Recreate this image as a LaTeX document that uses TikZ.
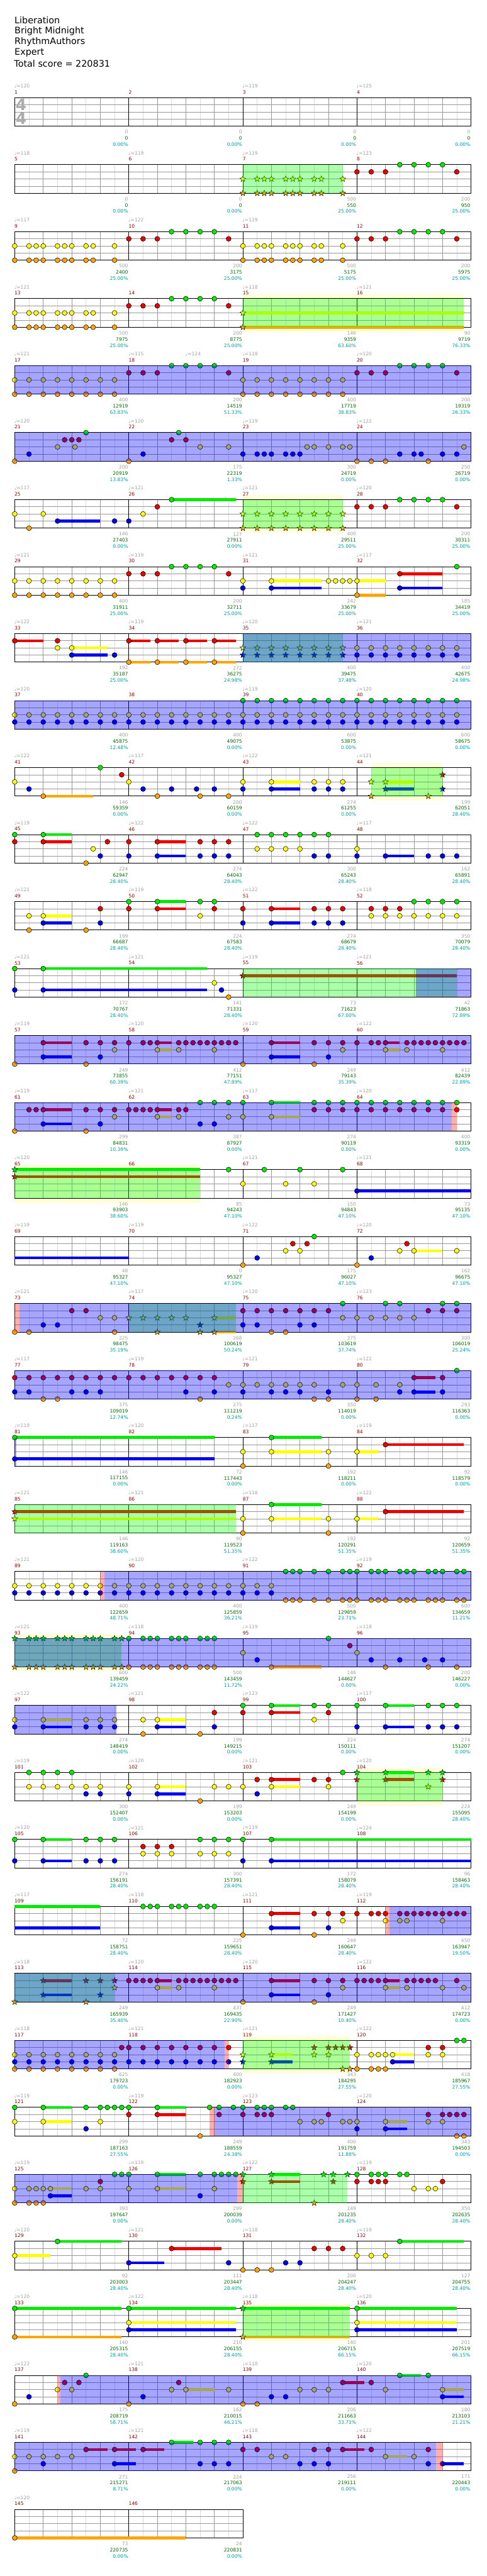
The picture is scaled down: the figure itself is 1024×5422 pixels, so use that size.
\documentclass[tikz,border=0pt]{standalone}
\usepackage{fontspec}
\setmainfont{DejaVu Sans}
\usetikzlibrary{shapes.geometric}
\definecolor{lane0}{RGB}{0,235,0}
\definecolor{lane1}{RGB}{235,0,0}
\definecolor{lane2}{RGB}{255,255,0}
\definecolor{lane3}{RGB}{0,0,240}
\definecolor{lane4}{RGB}{255,165,0}
\definecolor{mred}{RGB}{139,0,0}
\definecolor{tgray}{RGB}{160,160,160}
\definecolor{ngreen}{RGB}{0,105,0}
\definecolor{nteal}{RGB}{0,158,158}
\definecolor{glight}{RGB}{218,218,218}
\definecolor{ggray}{RGB}{152,152,152}
\definecolor{pgreen}{RGB}{0,255,0}
\definecolor{pblue}{RGB}{0,0,255}
\definecolor{ppale}{RGB}{255,255,218}
\definecolor{tsig}{RGB}{172,172,172}
\tikzset{
  lbl/.style={inner sep=0pt, font=\fontsize{10}{12}\selectfont},
  tempo/.style={lbl, text=tgray, anchor=west},
  mnum/.style={lbl, text=mred, anchor=west},
  gnum/.style={lbl, text=tgray, anchor=east},
  snum/.style={lbl, text=ngreen, anchor=east},
  pnum/.style={lbl, text=nteal, anchor=east},
  header/.style={inner sep=0pt, anchor=west, font=\fontsize{19}{23}\selectfont},
  tsnum/.style={inner sep=0pt, text=tsig, font=\fontsize{33}{33}\selectfont\bfseries},
  notestyle/.style={draw=black, line width=0.7pt},
  starnote/.style={star, star points=5, star point ratio=2.3, minimum size=13pt, inner sep=0pt, draw=black, line width=0.6pt},
  gridlight/.style={draw=glight, line width=1pt},
  gridgray/.style={draw=ggray, line width=1pt},
  gridblack/.style={draw=black, line width=1pt},
  border/.style={draw=black, line width=1.3pt},
  ovgreen/.style={fill=pgreen, fill opacity=0.33},
  ovblue/.style={fill=pblue, fill opacity=0.35},
  ovpink/.style={fill=red, fill opacity=0.32},
}
\newcommand\mxy[2]{%
  \pgfmathtruncatemacro\mrow{(#1-1)/4}%
  \pgfmathtruncatemacro\mcol{#1-1-4*\mrow}%
  \pgfmathsetmacro\bx{31+240*\mcol+15*(#2)}%
  \pgfmathsetmacro\by{205.7+141*\mrow}}
\newcommand\gnote[3]{\foreach \pp in {#2}{\foreach \ll in {#3}{\mxy{#1}{\pp}\filldraw[notestyle, fill=lane\ll] (\bx,{\by+15*\ll}) circle[radius=5.2pt];}}}
\newcommand\gstar[3]{\foreach \pp in {#2}{\foreach \ll in {#3}{\mxy{#1}{\pp}\node[starnote, fill=lane\ll] at (\bx,{\by+15*\ll}) {};}}}
\newcommand\gsus[4]{\foreach \ll in {#3}{\mxy{#1}{#2}\draw[draw=lane\ll, line width=6pt] (\bx,{\by+15*\ll}) -- ++({15*(#4)},0);}}
\newcommand\region[4]{\mxy{#2}{#3}\let\rxa\bx\mxy{#2}{#4}\fill[#1] (\rxa,\by) rectangle (\bx,{\by+60});}
\newcommand\paleband[3]{\mxy{#1}{#2}\let\rxa\bx\mxy{#1}{#3}\fill[ppale] (\rxa,{\by-10}) rectangle (\bx,{\by+70});}
\newcommand\meas[5]{\mxy{#1}{0}%
  \if\relax\detokenize{#2}\relax\else\node[tempo] at ({\bx-1},{\by-24.7}) {♩=#2};\fi
  \node[mnum] at ({\bx-0.5},{\by-11.7}) {#1};
  \node[gnum] at ({\bx+238.5},{\by+72.4}) {#3};
  \node[snum] at ({\bx+238.5},{\by+85.4}) {#4};
  \node[pnum] at ({\bx+238.5},{\by+98.4}) {#5\%};}
\newcommand\drawrow[2]{%
  \pgfmathtruncatemacro\ne{4*#2}%
  \pgfmathsetmacro\xe{31+240*#2}%
  \foreach \k in {1,...,\ne}{\draw[gridlight] ({31+60*\k-30},#1) -- ++(0,60);}
  \foreach \k in {1,...,\ne}{\draw[gridgray] ({31+60*\k},#1) -- ++(0,60);}
  \foreach \l in {15,30,45}{\draw[gridgray] (31,{#1+\l}) -- (\xe,{#1+\l});}
  \foreach \k in {1,...,#2}{\draw[gridblack] ({31+240*\k},#1) -- ++(0,60);}
  \draw[border] (31,#1) rectangle (\xe,{#1+60});}
\begin{document}
\begin{tikzpicture}[x=1pt,y=-1pt]
\useasboundingbox (0,0) rectangle (1024,5422);
\fill[white] (0,0) rectangle (1024,5422);
% header
\node[header] (t1) at (30.5,42) {Liberation};
\node[header] (t2) at (30.5,65) {Bright Midnight};
\node[header] (t3) at (30.5,88) {RhythmAuthors};
\node[header] (t4) at (30.5,111) {Expert};
\node[header] (t5) at (29.5,134) {Total score = 220831};
% pale bands
\paleband{15}{0}{31}\paleband{27}{0}{14}\paleband{44}{2}{12}\paleband{65}{0}{26}
\paleband{93}{0}{15}\paleband{104}{0}{12}\paleband{119}{0}{15}\paleband{135}{0}{15}
% grid
\foreach \r in {0,...,35}{\pgfmathsetmacro\yr{205.7+141*\r}\drawrow{\yr}{4}}
\drawrow{5281.7}{2}
\node[tsnum] (ts1) at (44.5,220) {4};
\node[tsnum] (ts2) at (44.5,250) {4};
% ---------- notes ----------
\gstar{7}{0,2,3,4,6,7,8,10,11,14}{2,4}
\foreach \m in {8,10,12,14,18,20,28,30}{\gnote{\m}{0,2,4,14}{1}\gnote{\m}{6,8,10,12}{0}}
\foreach \m in {9,11,13}{\gnote{\m}{0,2,3,4,6,7,8,10,11,14}{2,4}}
\gsus{15}{0}{2,4}{31}\gstar{15}{0}{2,4}
\foreach \m in {17,19,29}{\gnote{\m}{0,2,...,14}{2,4}}
\gnote{21}{0}{4}\gnote{21}{2}{3}\gnote{21}{6,8.45}{2}\gnote{21}{7,8,9}{1}\gnote{21}{10}{0}
\gnote{22}{0}{4}\gnote{22}{2}{3}\gnote{22}{6,8}{1}\gnote{22}{7}{0}\gnote{22}{10,14}{2}
\gnote{23}{0,2,3,4,6,7,8}{3}\gnote{23}{9,10,12,14,15}{2}
\gnote{24}{0,2,4,10}{4}\gnote{24}{6,8,9,12,14}{3}\gnote{24}{15}{2}
\gnote{25}{0,4}{2}\gnote{25}{2}{4}\gsus{25}{6}{3}{6}\gnote{25}{6,14}{3}
\gnote{26}{0}{3}\gnote{26}{2}{2}\gnote{26}{4}{1}\gsus{26}{6}{0}{9}\gnote{26}{6}{0}
\gstar{27}{0,2,...,14}{2,4}
\gnote{31}{0}{2,3}\gsus{31}{4}{2,3}{7}\gnote{31}{4}{2,3}\gnote{31}{12,13,14,15}{2}
\gsus{32}{0}{2,4}{4}\gnote{32}{0}{2,4}\gsus{32}{6}{1,3}{6}\gnote{32}{6}{1,3}\gnote{32}{14}{0}
\gsus{33}{0}{1}{4}\gnote{33}{0}{1}\gnote{33}{6}{1,2}\gsus{33}{8}{2,3}{5}\gnote{33}{8}{2,3}\gnote{33}{14}{3}
\foreach \q in {0,4,8,12}{\gsus{34}{\q}{1,4}{3}}\gnote{34}{0,4,8,12}{1,4}
\gstar{35}{0,2,...,14}{2,3}
\foreach \m in {36,37,38}{\gnote{\m}{0,2,...,14}{2,3}}
\foreach \m in {39,40}{\gnote{\m}{0,2,...,14}{0,2,3}}
\foreach \m in {41,95}{\gnote{\m}{0}{2}\gnote{\m}{2}{3}\gsus{\m}{4}{4}{7}\gnote{\m}{4}{4}\gnote{\m}{12}{0}\gnote{\m}{15}{1}}
\foreach \m in {42,96}{\gnote{\m}{0}{2}\gnote{\m}{2,6,9.5,12}{3}\gnote{\m}{4,10,14}{4}}
\foreach \m in {43,97}{\gnote{\m}{0}{2,3}\gsus{\m}{4}{2,3}{4}\gnote{\m}{4,10,12,14}{2,3}}
\gstar{44}{2}{2,4}\gsus{44}{4}{2,3}{4}\gstar{44}{4}{2,3}\gstar{44}{10}{4}\gstar{44}{12}{1,3}
\gnote{45}{0}{0,1}\gsus{45}{4}{0,1}{4}\gnote{45}{4}{0,1}\gnote{45}{10}{4}\gnote{45}{11}{2}\gnote{45}{12}{3}\gnote{45}{13}{1}
\foreach \m in {46,51}{\gnote{\m}{0}{1,3}\gsus{\m}{4}{1,3}{4}\gnote{\m}{4,10,12,14}{1,3}}
\gnote{47}{2,4,6,8}{0,2}\gnote{47}{10,12}{0,3}
\gnote{48}{0}{2,3}\gsus{48}{4}{3}{4}\gnote{48}{4,10,12,14}{3}
\foreach \m in {49,98}{\gnote{\m}{2}{2,4}\gsus{\m}{4}{2,3}{4}\gnote{\m}{4}{2,3}\gnote{\m}{10}{4}\gnote{\m}{12}{1,3}}
\foreach \m in {50,99}{\gnote{\m}{0}{0,1}\gsus{\m}{4}{0,1}{4}\gnote{\m}{4}{0,1}\gnote{\m}{10}{0,2}\gnote{\m}{12}{0,1}}
\gnote{52}{2,4,6}{1,2}\gnote{52}{8,10,12,14}{0,2}
\gnote{53}{0}{0,3}\gsus{53}{4}{0,3}{23}\gnote{53}{4}{0,3}
\gnote{54}{12}{2}\gnote{54}{13}{3}\gnote{54}{14}{4}
\gsus{55}{0}{1}{30}\gstar{55}{0}{1}
\foreach \m in {57,59,111,115}{\gnote{\m}{0,10}{4}\gsus{\m}{4}{1,3}{4}\gnote{\m}{4}{1,3}\gnote{\m}{10,12,14}{1}\gnote{\m}{12}{3}\gnote{\m}{14}{2}}
\foreach \m in {58,60}{\gnote{\m}{0,2,3}{1}\gsus{\m}{4}{1,2}{2}\gnote{\m}{4,7}{1,2}\gnote{\m}{8,9,10,11,12,13,14,15}{1}\gnote{\m}{12}{2}}
\gnote{61}{0,10}{4}\gnote{61}{2,3}{1}\gsus{61}{4}{1,3}{4}\gnote{61}{4}{1,3}\gnote{61}{10,12,14}{1}\gnote{61}{12}{3}\gnote{61}{14}{2}
\gnote{62}{0,1,2,3}{1}\gsus{62}{4}{1,2}{2}\gnote{62}{4,7}{1,2}\gnote{62}{8}{1}\gnote{62}{10,12}{0,3}\gnote{62}{14}{0,2}
\gnote{63}{0}{0,2}\gsus{63}{4}{0,2}{4}\gnote{63}{4}{0,2}\gnote{63}{10,12,14}{0,1}
\gnote{64}{0,2,...,14}{0,1}
\gsus{65}{0}{0,1}{26}\gstar{65}{0}{0,1}
\gnote{66}{14}{0}
\gnote{67}{0,6,10}{2}\gnote{67}{3,8,14}{0}
\gsus{68}{0}{3}{16}\gnote{68}{0}{3}\gsus{69}{0}{3}{16}
\foreach \m in {71,137}{\gnote{\m}{0}{4}\gnote{\m}{2}{3}\gnote{\m}{6,8}{2}\gnote{\m}{7,9}{1}\gnote{\m}{10}{0}}
\foreach \m in {72,138}{\gnote{\m}{0}{4}\gnote{\m}{2}{3}\gnote{\m}{6}{2}\gnote{\m}{7}{1}\gsus{\m}{8}{2}{4}\gnote{\m}{8,14}{2}}
\gnote{73}{0,2,14}{4}\gnote{73}{4,6}{3}\gnote{73}{8,10}{1}\gnote{73}{12,14}{2}
\gsus{74}{12}{2,4}{3}\gstar{74}{0,2,4,6,8,12}{2}\gstar{74}{10}{3}\gstar{74}{4,10,12}{4}
\gnote{75}{0,2,...,12}{1}\gnote{75}{0,2,8,10}{3}\gnote{75}{4,6}{4}\gnote{75}{14}{0,2}
\gnote{76}{0,2,4,6,8}{2}\gnote{76}{4,6,12,14}{0}\gnote{76}{10,12,14}{1}
\gnote{77}{0,2,...,14}{1}\gnote{77}{0,2,8,10,12}{3}\gnote{77}{4,6}{4}
\gnote{78}{0,2,...,12}{1}\gnote{78}{8,12}{3}\gnote{78}{10}{4}\gnote{78}{14}{2}
\gnote{79}{0,2,4,6,8,10,14}{2}\gnote{79}{0,4,6,8,12}{3}\gnote{79}{10,12}{4}
\gnote{80}{0,2.67,6}{2}\gnote{80}{0,2.67}{4}\gnote{80}{6}{3}\gsus{80}{8}{1,3}{3}\gnote{80}{8,12}{1,3}\gnote{80}{14}{0}
\gsus{81}{0}{0,3}{28}\gnote{81}{0}{0,3}
\foreach \m in {83,87}{\gnote{\m}{0,12}{2,4}\gsus{\m}{4}{0,2}{7}\gnote{\m}{4}{0,2}}
\foreach \m in {84,88}{\gsus{\m}{0}{2}{3}\gnote{\m}{0}{2}\gsus{\m}{4}{1}{11}\gnote{\m}{4}{1}}
\gsus{85}{0}{1,2}{31}\gstar{85}{0}{1,2}
\foreach \m in {89,90}{\gnote{\m}{0,2,...,14}{2,3}}
\gnote{91}{0,2,4}{2,3}\gnote{91}{6,7,8,10,12,14,15}{0,4}
\gnote{92}{0,2,3,4,6,7,8,10,11,12,14,15}{0,4}
\gstar{93}{0,2,3,4,6,7,8,10,11,12,14,15}{0,4}
\gnote{94}{0,2,3,4,6,7,8,10,11,12}{0,4}
\foreach \m in {100,105}{\gnote{\m}{0}{0,3}\gsus{\m}{4}{0,3}{4}\gnote{\m}{4,10,12,14}{0,3}}
\gnote{101}{2,4,6,8}{0,2}\gnote{101}{10,12}{2,3}
\gnote{102}{0}{2,3}\gsus{102}{4}{2,3}{4}\gnote{102}{4}{2,3}\gnote{102}{10}{4}\gnote{102}{12,14}{2}
\gnote{103}{0}{2}\gnote{103}{2}{1,3}\gsus{103}{4}{1,2}{4}\gnote{103}{4}{1,2}\gnote{103}{10}{1}\gnote{103}{12}{1,2}\gnote{103}{14}{0}
\gstar{104}{0}{0,1}\gsus{104}{4}{0,1}{4}\gstar{104}{4}{0,1}\gstar{104}{10}{0,2}\gstar{104}{12}{0,1}
\gnote{106}{2,4,6}{1,2}\gnote{106}{10,12,14}{0,2}
\gnote{107}{0}{0,3}\gsus{107}{4}{0,3}{28}\gnote{107}{4}{0,3}
\gsus{109}{0}{0,3}{12}
\gnote{110}{2,3,4,6,7,8,10,11,12}{0}
\gnote{112}{0,2,3,4,6,7,8,9,10,11,12,13,14,15}{1}\gnote{112}{4,6,7,12}{2}
\gstar{113}{0,10}{4}\gsus{113}{4}{1,3}{4}\gstar{113}{4}{1,3}\gstar{113}{10,12,14}{1}\gstar{113}{12}{3}\gstar{113}{14}{2}
\gnote{114}{0,1,2,3}{1}\gsus{114}{4}{1,2}{2}\gnote{114}{4,7}{1,2}\gnote{114}{8,9,10,11,12,13,14,15}{1}\gnote{114}{12}{2}
\gnote{116}{0,1,2,3}{1}\gsus{116}{4}{1,2}{2}\gnote{116}{4,7}{1,2}\gnote{116}{8,9,10,11,14}{1}\gnote{116}{12,15}{2}
\gnote{117}{0,2,...,14}{2,3,4}\gnote{117}{15}{1}
\gnote{118}{0,2,...,14}{1,3}
\gstar{119}{0}{2,3}\gsus{119}{4}{2,3}{3}\gstar{119}{4}{2,3}\gstar{119}{10,12}{1,2}\gstar{119}{13}{1}\gstar{119}{14,15}{1,4}
\gnote{120}{0,2,3,4}{2,4}\gsus{120}{5}{2,3}{3}\gnote{120}{5}{2,3}\gnote{120}{10,12}{1,2}\gnote{120}{14,15}{0}
\foreach \m in {121,126}{\gnote{\m}{0}{0,2}\gsus{\m}{4}{0,2}{4}\gnote{\m}{4}{0,2}\gnote{\m}{10}{0,3}\gnote{\m}{12}{0,2}\gnote{\m}{13,14,15}{0}}
\gnote{122}{0}{0,1}\gsus{122}{4}{0,1}{4}\gnote{122}{4}{0,1}\gnote{122}{10}{4}\gnote{122}{11.33,14.67}{0}\gnote{122}{12.67}{0,1}
\gnote{123}{0,2,3,4}{0,1}\gnote{123}{6,7}{0}\gnote{123}{8,10,11,14,15}{2}\gnote{123}{12}{1}
\gnote{124}{0}{2,3}\gsus{124}{4}{2,3}{3}\gnote{124}{4}{2,3}\gnote{124}{10,12}{1,2}\gnote{124}{13,14,15}{1}\gnote{124}{14,15}{4}
\gnote{125}{0,2,3,4}{2,4}\gsus{125}{5}{2,3}{3}\gnote{125}{5}{2,3}\gnote{125}{10,12}{2}\gnote{125}{12}{1}\gnote{125}{14,15}{0}
\gstar{127}{0}{0,1}\gsus{127}{4}{0,1}{4}\gstar{127}{4}{0,1}\gstar{127}{10}{4}\gstar{127}{11.33,14.67}{0}\gstar{127}{12.67}{0,1}
\gnote{128}{0,2,3,4}{0,1}\gnote{128}{6,7}{0}\gnote{128}{8,10,11}{2}\gnote{128}{12}{1}
\gsus{129}{0}{2}{5}\gnote{129}{0}{2}\gsus{129}{6}{0}{9}\gnote{129}{6}{0}
\gsus{130}{0}{3}{5}\gnote{130}{0}{3}\gsus{130}{6}{1}{7}\gnote{130}{6}{1}\gnote{130}{14}{3}
\gnote{131}{0,2,4}{4}\gnote{131}{6,8}{3}\gnote{131}{10,12,14}{1}
\gnote{132}{0,2,4}{2}\gsus{132}{6}{0}{9}\gnote{132}{6}{0}
\gsus{133}{0}{0,4}{15}\gnote{133}{0}{0,4}
\gsus{134}{0}{0,2,3}{15}\gnote{134}{0}{0,2,3}
\gsus{135}{0}{0,4}{15}\gstar{135}{0}{0,4}
\gsus{136}{0}{0,2,3}{14}\gnote{136}{0}{0,2,3}
\gnote{139}{0,2}{4}\gnote{139}{4,6}{3}\gnote{139}{8,10,12}{2}\gsus{139}{14}{1}{3}\gnote{139}{14}{1}
\gnote{140}{2}{1}\gnote{140}{4}{2}\gsus{140}{6}{0}{3}\gnote{140}{6,10}{0}\gsus{140}{12}{2,3}{3}\gnote{140}{12}{2,3}
\gnote{141}{0,2,4,6,8}{2}\gnote{141}{0}{4}\gnote{141}{4}{3}\gsus{141}{10}{1}{3}\gnote{141}{10}{1}\gsus{141}{14}{1,3}{3}\gnote{141}{14}{1,3}
\gsus{142}{2}{1}{3}\gnote{142}{2}{1}\gsus{142}{6}{0}{3}\gnote{142}{6}{0}\gnote{142}{10,12,14}{0,3}
\gnote{143}{0,2,10,12}{1}\gsus{143}{14}{1}{3}\gnote{143}{14}{1}\gnote{143}{4,6}{2}\gnote{143}{8,10,12}{3}
\gnote{144}{2,10}{1}\gsus{144}{4}{2}{3}\gnote{144}{4,8}{2}\gnote{144}{10}{3}\gsus{144}{12}{3}{3}\gnote{144}{12}{3}
\gsus{145}{0}{4}{24}\gnote{145}{0}{4}
% ---------- overlays ----------
\region{ovgreen}{7}{0}{14}\region{ovgreen}{15}{0}{31}\region{ovgreen}{27}{0}{14}
\region{ovgreen}{35}{0}{14}\region{ovgreen}{44}{2}{12}\region{ovgreen}{55}{0}{30}
\region{ovgreen}{65}{0}{26}\region{ovgreen}{74}{0}{15}\region{ovgreen}{85}{0}{31}
\region{ovgreen}{93}{0}{15}\region{ovgreen}{104}{0}{12}\region{ovgreen}{113}{0}{14}
\region{ovgreen}{119}{0}{15}\region{ovgreen}{127}{0}{14.67}\region{ovgreen}{135}{0}{15}
\region{ovblue}{17}{0}{64}\region{ovblue}{21}{0}{64}\region{ovblue}{35}{0}{32}
\region{ovblue}{37}{0}{64}\region{ovblue}{56}{8.25}{16}\region{ovblue}{57}{0}{64}
\region{ovblue}{61}{0}{61.3}\region{ovblue}{73}{0.7}{64}\region{ovblue}{77}{0}{64}
\region{ovblue}{81}{0}{0.2}\region{ovblue}{89}{12.6}{64}\region{ovblue}{93}{0}{64}
\region{ovblue}{97}{0}{14.3}\region{ovblue}{112}{4.6}{16}\region{ovblue}{113}{0}{64}
\region{ovblue}{117}{0}{29.4}\region{ovblue}{122}{12}{48}\region{ovblue}{125}{0}{31.2}
\region{ovblue}{137}{6.4}{64}\region{ovblue}{141}{0}{59.1}
\region{ovpink}{64}{13.3}{14}\region{ovpink}{73}{0}{0.7}\region{ovpink}{89}{12}{12.6}
\region{ovpink}{112}{4}{4.6}\region{ovpink}{118}{13.4}{14}\region{ovpink}{122}{11.3}{12}
\region{ovpink}{126}{15.2}{16}\region{ovpink}{137}{6}{6.4}\region{ovpink}{144}{11.1}{12}
% ---------- labels ----------
\meas{1}{120}{0}{0}{0.00}\meas{2}{}{0}{0}{0.00}\meas{3}{119}{0}{0}{0.00}\meas{4}{125}{0}{0}{0.00}
\meas{5}{118}{0}{0}{0.00}\meas{6}{119}{0}{0}{0.00}\meas{7}{119}{500}{550}{25.00}\meas{8}{123}{200}{950}{25.00}
\meas{9}{117}{500}{2400}{25.00}\meas{10}{122}{200}{3175}{25.00}\meas{11}{119}{500}{5175}{25.00}\meas{12}{}{200}{5975}{25.00}
\meas{13}{121}{500}{7975}{25.00}\meas{14}{}{200}{8775}{25.00}\meas{15}{118}{146}{9359}{63.60}\meas{16}{121}{90}{9719}{76.33}
\meas{17}{121}{400}{12919}{63.83}\meas{18}{115}{200}{14519}{51.33}\meas{19}{118}{400}{17719}{38.83}\meas{20}{120}{200}{19319}{26.33}
\meas{21}{120}{200}{20919}{13.83}\meas{22}{120}{175}{22319}{1.33}\meas{23}{119}{300}{24719}{0.00}\meas{24}{122}{250}{26719}{0.00}
\meas{25}{117}{146}{27403}{0.00}\meas{26}{121}{127}{27911}{0.00}\meas{27}{121}{400}{29511}{25.00}\meas{28}{120}{200}{30311}{25.00}
\meas{29}{121}{400}{31911}{25.00}\meas{30}{119}{200}{32711}{25.00}\meas{31}{121}{242}{33679}{25.00}\meas{32}{117}{185}{34419}{25.00}
\meas{33}{122}{192}{35187}{25.00}\meas{34}{119}{272}{36275}{24.98}\meas{35}{120}{400}{39475}{37.48}\meas{36}{121}{400}{42675}{24.98}
\meas{37}{120}{400}{45875}{12.48}\meas{38}{}{400}{49075}{0.00}\meas{39}{119}{600}{53875}{0.00}\meas{40}{120}{600}{58675}{0.00}
\meas{41}{122}{146}{59359}{0.00}\meas{42}{117}{200}{60159}{0.00}\meas{43}{122}{274}{61255}{0.00}\meas{44}{121}{199}{62051}{28.40}
\meas{45}{119}{224}{62947}{28.40}\meas{46}{122}{274}{64043}{28.40}\meas{47}{122}{300}{65243}{28.40}\meas{48}{117}{162}{65891}{28.40}
\meas{49}{121}{199}{66687}{28.40}\meas{50}{119}{224}{67583}{28.40}\meas{51}{122}{274}{68679}{28.40}\meas{52}{118}{350}{70079}{28.40}
\meas{53}{121}{172}{70767}{28.40}\meas{54}{121}{141}{71331}{28.40}\meas{55}{119}{73}{71623}{67.00}\meas{56}{121}{42}{71863}{72.89}
\meas{57}{119}{249}{73855}{60.39}\meas{58}{120}{412}{77151}{47.89}\meas{59}{120}{249}{79143}{35.39}\meas{60}{122}{412}{82439}{22.89}
\meas{61}{119}{299}{84831}{10.39}\meas{62}{121}{387}{87927}{0.00}\meas{63}{117}{274}{90119}{0.00}\meas{64}{120}{400}{93319}{0.00}
\meas{65}{120}{146}{93903}{38.60}\meas{66}{}{85}{94243}{47.10}\meas{67}{121}{150}{94843}{47.10}\meas{68}{121}{73}{95135}{47.10}
\meas{69}{119}{48}{95327}{47.10}\meas{70}{119}{0}{95327}{47.10}\meas{71}{122}{175}{96027}{47.10}\meas{72}{120}{162}{96675}{47.10}
\meas{73}{121}{225}{98475}{35.19}\meas{74}{117}{268}{100619}{50.24}\meas{75}{120}{375}{103619}{37.74}\meas{76}{123}{300}{106019}{25.24}
\meas{77}{117}{375}{109019}{12.74}\meas{78}{119}{275}{111219}{0.24}\meas{79}{121}{350}{114019}{0.00}\meas{80}{122}{293}{116363}{0.00}
\meas{81}{119}{146}{117155}{0.00}\meas{82}{120}{72}{117443}{0.00}\meas{83}{117}{192}{118211}{0.00}\meas{84}{119}{92}{118579}{0.00}
\meas{85}{121}{146}{119163}{38.60}\meas{86}{121}{90}{119523}{51.35}\meas{87}{118}{192}{120291}{51.35}\meas{88}{122}{92}{120659}{51.35}
\meas{89}{121}{400}{122659}{48.71}\meas{90}{120}{400}{125859}{36.21}\meas{91}{122}{500}{129859}{23.71}\meas{92}{119}{600}{134659}{11.21}
\meas{93}{121}{600}{139459}{24.22}\meas{94}{118}{500}{143459}{11.72}\meas{95}{119}{146}{144627}{0.00}\meas{96}{118}{200}{146227}{0.00}
\meas{97}{122}{274}{148419}{0.00}\meas{98}{121}{199}{149215}{0.00}\meas{99}{123}{224}{150111}{0.00}\meas{100}{117}{274}{151207}{0.00}
\meas{101}{119}{300}{152407}{0.00}\meas{102}{120}{199}{153203}{0.00}\meas{103}{121}{249}{154199}{0.00}\meas{104}{120}{224}{155095}{28.40}
\meas{105}{120}{274}{156191}{28.40}\meas{106}{121}{300}{157391}{28.40}\meas{107}{119}{172}{158079}{28.40}\meas{108}{124}{96}{158463}{28.40}
\meas{109}{117}{72}{158751}{28.40}\meas{110}{118}{225}{159651}{28.40}\meas{111}{121}{249}{160647}{28.40}\meas{112}{119}{450}{163947}{19.50}
\meas{113}{118}{249}{165939}{35.40}\meas{114}{120}{437}{169435}{22.90}\meas{115}{120}{249}{171427}{10.40}\meas{116}{122}{412}{174723}{0.00}
\meas{117}{118}{625}{179723}{0.00}\meas{118}{121}{400}{182923}{0.00}\meas{119}{121}{343}{184295}{27.55}\meas{120}{122}{418}{185967}{27.55}
\meas{121}{119}{299}{187163}{27.55}\meas{122}{119}{249}{188559}{24.38}\meas{123}{123}{400}{191759}{11.88}\meas{124}{120}{343}{194503}{0.00}
\meas{125}{119}{393}{197647}{0.00}\meas{126}{119}{299}{200039}{0.00}\meas{127}{122}{249}{201235}{28.40}\meas{128}{119}{350}{202635}{28.40}
\meas{129}{120}{92}{203003}{28.40}\meas{130}{121}{111}{203447}{28.40}\meas{131}{118}{200}{204247}{28.40}\meas{132}{119}{127}{204755}{28.40}
\meas{133}{120}{140}{205315}{28.40}\meas{134}{122}{210}{206155}{28.40}\meas{135}{118}{140}{206715}{66.15}\meas{136}{120}{201}{207519}{66.15}
\meas{137}{123}{175}{208719}{58.71}\meas{138}{121}{162}{210015}{46.21}\meas{139}{118}{206}{211663}{33.71}\meas{140}{120}{180}{213103}{21.21}
\meas{141}{119}{271}{215271}{8.71}\meas{142}{121}{224}{217063}{0.00}\meas{143}{118}{256}{219111}{0.00}\meas{144}{122}{171}{220443}{0.00}
\meas{145}{120}{73}{220735}{0.00}\meas{146}{}{24}{220831}{0.00}
\mxy{18}{8}\node[tempo] (t18b) at ({\bx-1},{\by-24.7}) {♩=124};
\end{tikzpicture}
\end{document}
